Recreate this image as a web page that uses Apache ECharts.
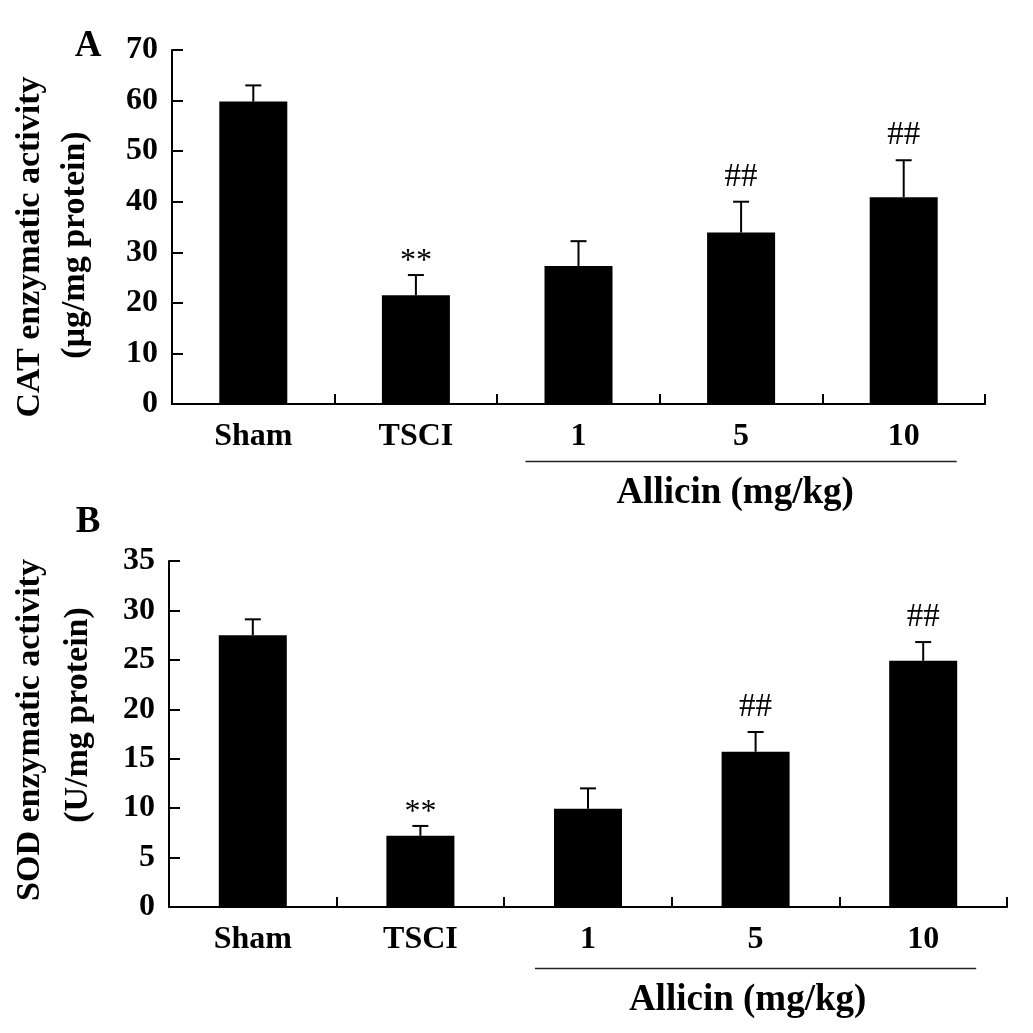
<!DOCTYPE html>
<html>
<head>
<meta charset="utf-8">
<script src="https://cdn.jsdelivr.net/npm/echarts@6/dist/echarts.min.js"></script>
<style>
html,body{margin:0;padding:0;background:#fff;}
#main{width:1033px;height:1033px;}
</style>
</head>
<body>
<div id="main"></div>
<script>
const categories = ['Sham', 'TSCI', '1', '5', '10'];
const catMean = [59.8, 21.5, 27.3, 33.9, 40.9];
const catSd = [3.2, 4.0, 4.9, 6.1, 7.3];
const catMarks = ['', '**', '', '##', '##'];
const sodMean = [27.5, 7.2, 9.95, 15.7, 24.9];
const sodSd = [1.6, 1.0, 2.05, 2.0, 1.9];
const sodMarks = ['', '**', '', '##', '##'];
const catAxis = { min: 0, max: 70, interval: 10 };
const sodAxis = { min: 0, max: 35, interval: 5 };
const catTitle = ['CAT enzymatic activity', '(\u03bcg/mg protein)'];
const sodTitle = ['SOD enzymatic activity', '(U/mg protein)'];
const doseTitle = 'Allicin (mg/kg)';
const panelLabels = ['A', 'B'];

const FONT = '"Liberation Serif", "Times New Roman", serif';
const chart = echarts.init(document.getElementById('main'), null, { renderer: 'canvas' });

function errData(means, sds) {
  return means.map((m, i) => [i, m, +(m + sds[i]).toFixed(3)]);
}
function makeRender(marks) {
  return function (params, api) {
    const x = api.value(0);
    const p0 = api.coord([x, api.value(1)]);
    const p1 = api.coord([x, api.value(2)]);
    const mark = marks[params.dataIndex];
    const children = [
      { type: 'line', shape: { x1: p0[0], y1: p0[1], x2: p1[0], y2: p1[1] }, style: { stroke: '#000', lineWidth: 2 } },
      { type: 'line', shape: { x1: p1[0] - 8, y1: p1[1], x2: p1[0] + 8, y2: p1[1] }, style: { stroke: '#000', lineWidth: 2 } }
    ];
    if (mark) {
      const isStar = mark.indexOf('*') >= 0;
      children.push({
        type: 'text',
        style: {
          x: p1[0], y: p1[1] - (isStar ? -3 : 8),
          text: mark, align: 'center', verticalAlign: 'bottom',
          fontFamily: FONT, fontSize: isStar ? 32 : 33, fontWeight: 'normal', fill: '#000'
        }
      });
    }
    return { type: 'group', children: children };
  };
}

const axisLine = { show: true, lineStyle: { color: '#000', width: 2 } };
function xAxisCfg(gi) {
  return {
    type: 'category', gridIndex: gi, data: categories,
    axisLine: axisLine,
    axisTick: { show: true, inside: true, length: 10, lineStyle: { color: '#000', width: 2 } },
    axisLabel: { color: '#000', fontFamily: FONT, fontWeight: 'bold', fontSize: 32, margin: 17 },
    splitLine: { show: false }
  };
}
function yAxisCfg(gi, ax) {
  return {
    type: 'value', gridIndex: gi, min: ax.min, max: ax.max, interval: ax.interval,
    axisLine: axisLine,
    axisTick: { show: true, inside: true, length: 11, lineStyle: { color: '#000', width: 2 } },
    axisLabel: { color: '#000', fontFamily: FONT, fontWeight: 'bold', fontSize: 32, margin: 14 },
    splitLine: { show: false }
  };
}

const option = {
  backgroundColor: '#fff',
  animation: false,
  grid: [
    { left: 172, right: 48, top: 50, bottom: 629, containLabel: false },
    { left: 169, right: 26, top: 561, bottom: 126, containLabel: false }
  ],
  xAxis: [xAxisCfg(0), xAxisCfg(1)],
  yAxis: [yAxisCfg(0, catAxis), yAxisCfg(1, sodAxis)],
  series: [
    { type: 'bar', xAxisIndex: 0, yAxisIndex: 0, data: catMean, barWidth: 68, itemStyle: { color: '#000' } },
    { type: 'custom', xAxisIndex: 0, yAxisIndex: 0, data: errData(catMean, catSd), renderItem: makeRender(catMarks), z: 3 },
    { type: 'bar', xAxisIndex: 1, yAxisIndex: 1, data: sodMean, barWidth: 68, itemStyle: { color: '#000' } },
    { type: 'custom', xAxisIndex: 1, yAxisIndex: 1, data: errData(sodMean, sodSd), renderItem: makeRender(sodMarks), z: 3 }
  ]
};
chart.setOption(option);

function titleText(x, y, text) {
  return {
    type: 'text', x: x, y: y, rotation: Math.PI / 2,
    style: { text: text, align: 'center', verticalAlign: 'middle', fontFamily: FONT, fontWeight: 'bold', fontSize: 34, fill: '#000' }
  };
}
function bracket(gi, lineY, textY, textShift) {
  const a = chart.convertToPixel({ xAxisIndex: gi, yAxisIndex: gi }, [2, 0]);
  const b = chart.convertToPixel({ xAxisIndex: gi, yAxisIndex: gi }, [4, 0]);
  const x1 = a[0] - 53, x2 = b[0] + 53;
  return [
    { type: 'line', shape: { x1: x1, y1: lineY, x2: x2, y2: lineY }, style: { stroke: '#222', lineWidth: 1.5 } },
    { type: 'text', x: (x1 + x2) / 2 + textShift, y: textY, style: { text: doseTitle, align: 'center', verticalAlign: 'middle', fontFamily: FONT, fontWeight: 'bold', fontSize: 37, fill: '#000' } }
  ];
}
const graphics = [].concat(
  [
    { type: 'text', x: 88, y: 46, style: { text: panelLabels[0], align: 'center', verticalAlign: 'middle', fontFamily: FONT, fontWeight: 'bold', fontSize: 37, fill: '#000' } },
    { type: 'text', x: 88, y: 522, style: { text: panelLabels[1], align: 'center', verticalAlign: 'middle', fontFamily: FONT, fontWeight: 'bold', fontSize: 37, fill: '#000' } },
    titleText(30, 247, catTitle[0]),
    titleText(75, 245, catTitle[1]),
    titleText(30, 730, sodTitle[0]),
    titleText(78, 715, sodTitle[1])
  ],
  bracket(0, 461.5, 493, -6),
  bracket(1, 968.5, 1000, -8)
);
chart.setOption({ graphic: graphics });
</script>
</body>
</html>
